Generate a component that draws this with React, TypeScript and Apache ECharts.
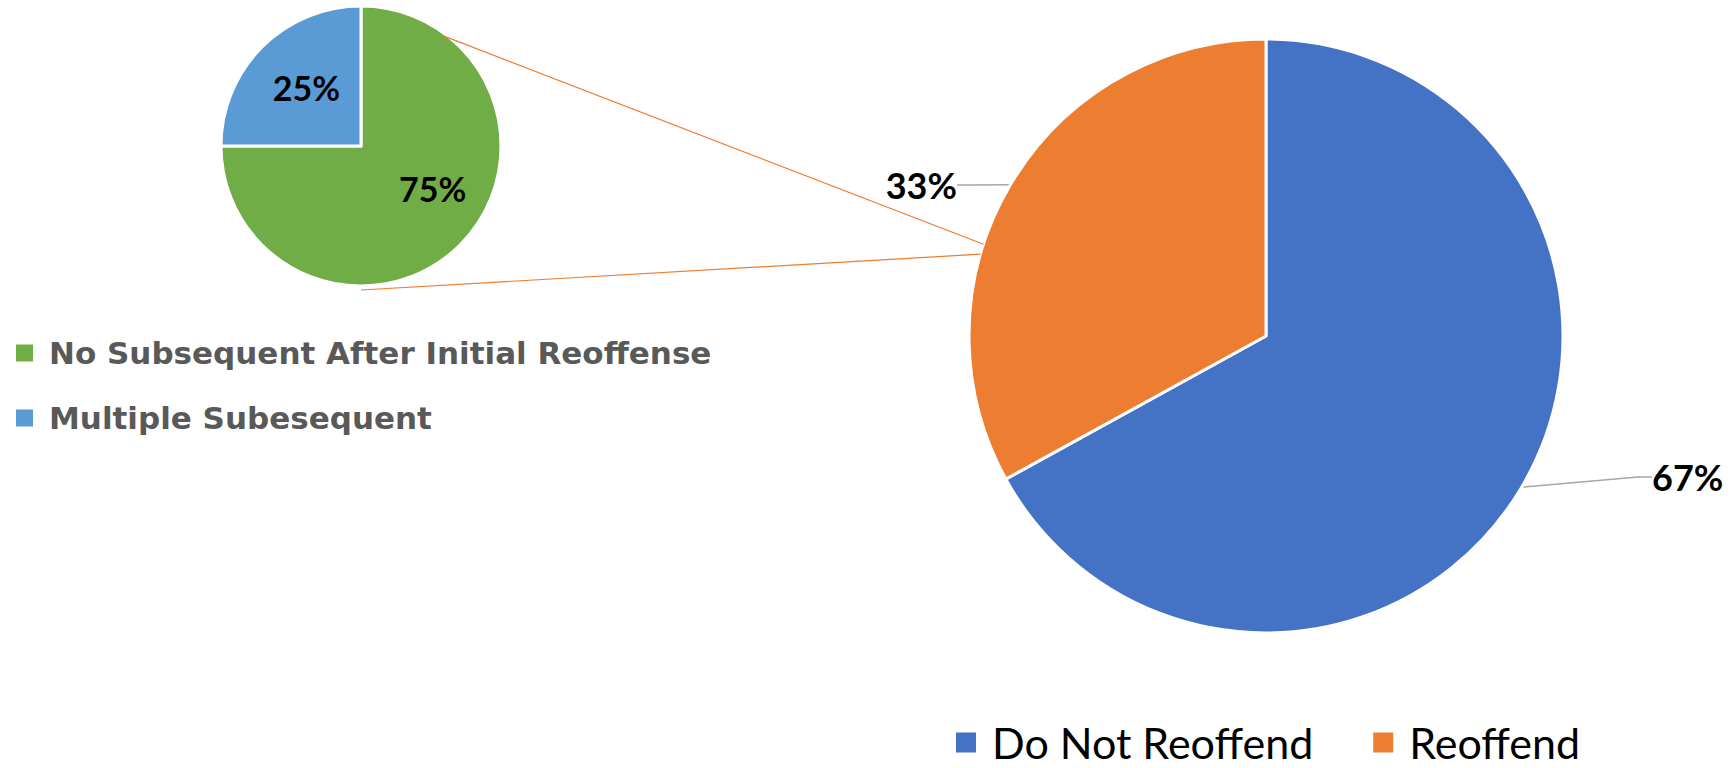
import React, { useEffect, useRef } from "react";
import * as echarts from "echarts";

const mainNames = ["Do Not Reoffend", "Reoffend"];
const mainValues = [67, 33];
const mainColors = ["#4472C4", "#ED7D31"];

const subNames = ["No Subsequent After Initial Reoffense", "Multiple Subesequent"];
const subValues = [75, 25];
const subColors = ["#70AD47", "#5B9BD5"];

const W = 1731;
const H = 768;
const SMALL = { cx: 361, cy: 146, r: 140 };
const BIG = { cx: 1266, cy: 336, r: 297 };

function pt(p: { cx: number; cy: number }, r: number, deg: number) {
  const a = (deg * Math.PI) / 180;
  return [p.cx + r * Math.cos(a), p.cy - r * Math.sin(a)];
}

export default function App() {
  const ref = useRef<HTMLDivElement>(null);
  useEffect(() => {
    if (!ref.current) return;
    const chart = echarts.init(ref.current, null, { renderer: "svg" });
    const font = "Lato, 'Open Sans', sans-serif";
    const a1 = pt(SMALL, 137, 54);
    const b1 = pt(BIG, 297, 162);
    const a2 = pt(SMALL, 144, -90);
    const b2 = pt(BIG, 297, 164);
    chart.setOption({
      animation: false,
      backgroundColor: "#ffffff",
      legend: [
        {
          orient: "vertical",
          left: 9,
          top: 330,
          itemWidth: 19,
          itemHeight: 19,
          itemGap: 29,
          icon: "rect",
          data: subNames,
          textStyle: {
            fontFamily: "'DejaVu Sans', sans-serif",
            fontSize: 31,
            fontWeight: "bold",
            lineHeight: 36,
            color: "#595959",
            padding: [0, 0, 0, 10],
          },
        },
        {
          orient: "horizontal",
          left: 949,
          top: 716,
          itemWidth: 22,
          itemHeight: 22,
          itemGap: 58,
          icon: "rect",
          data: mainNames,
          textStyle: {
            fontFamily: font,
            fontSize: 43,
            lineHeight: 40,
            color: "#000000",
            padding: [0, 0, 0, 10],
          },
        },
      ],
      graphic: [
        {
          type: "line",
          shape: { x1: a1[0], y1: a1[1], x2: b1[0], y2: b1[1] },
          style: { stroke: "#ED7D31", lineWidth: 1.2 },
          z: 10,
        },
        {
          type: "line",
          shape: { x1: a2[0], y1: a2[1], x2: b2[0], y2: b2[1] },
          style: { stroke: "#ED7D31", lineWidth: 1.2 },
          z: 10,
        },
      ],
      series: [
        {
          type: "pie",
          center: [BIG.cx, BIG.cy],
          radius: [0, BIG.r],
          startAngle: 90,
          clockwise: true,
          data: mainNames.map((n, i) => ({
            name: n,
            value: mainValues[i],
            itemStyle: { color: mainColors[i] },
          })),
          itemStyle: { borderColor: "#ffffff", borderWidth: 3 },
          label: {
            show: true,
            position: "outside",
            formatter: (p: any) => Math.round(p.percent) + "%",
            fontFamily: font,
            fontSize: 36,
            fontWeight: "bold",
            color: "#000000",
          },
          labelLine: {
            show: true,
            length: 20,
            length2: 14,
            lineStyle: { color: "#A6A6A6", width: 1.5 },
          },
          labelLayout: (p: any) =>
            p.dataIndex === 0
              ? { x: 1652, y: 477, align: "left", verticalAlign: "middle" }
              : { x: 957, y: 185, align: "right", verticalAlign: "middle" },
          emphasis: { disabled: true },
        },
        {
          type: "pie",
          center: [SMALL.cx, SMALL.cy],
          radius: [0, SMALL.r],
          startAngle: 90,
          clockwise: true,
          data: subNames.map((n, i) => ({
            name: n,
            value: subValues[i],
            itemStyle: { color: subColors[i] },
            label: { offset: i === 0 ? [20, -9] : [-3, -7] },
          })),
          itemStyle: { borderColor: "#ffffff", borderWidth: 3 },
          label: {
            show: true,
            position: "inside",
            formatter: (p: any) => Math.round(p.percent) + "%",
            fontFamily: font,
            fontSize: 34,
            fontWeight: "bold",
            color: "#000000",
          },
          labelLine: { show: false },
          emphasis: { disabled: true },
        },
      ],
    });
    return () => chart.dispose();
  }, []);
  return (
    <div
      ref={ref}
      style={{ position: "fixed", left: 0, top: 0, width: W, height: H }}
    />
  );
}
